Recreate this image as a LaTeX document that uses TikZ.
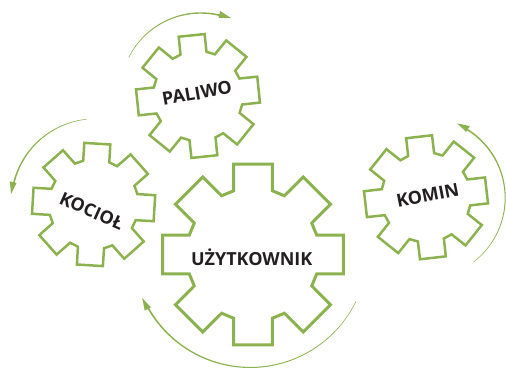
\documentclass[tikz,border=0pt]{standalone}
\usepackage{fontspec}
\setmainfont{Open Sans}
\definecolor{gearcolor}{HTML}{8CB24F}
\definecolor{labelcolor}{HTML}{231F20}
\tikzset{
  gearwheel/.pic={
    \draw[gearcolor,line join=miter] (-16.9:66.6)
      \foreach \a in {0,45,...,315} {
        -- ({\a-16.9}:66.6) -- ({\a-12.06}:92.3) -- ({\a+12.06}:92.3) -- ({\a+16.9}:66.6)
      } -- cycle;
  },
  smallgear/.style={scale=0.675,line width=2.5pt},
  biggear/.style={line width=3pt},
  gearlabel/.style={text=labelcolor,font=\bfseries\fontsize{18}{20}\selectfont,inner sep=0pt},
}
\begin{document}
\begin{tikzpicture}[x=1pt,y=1pt]
        \useasboundingbox (0,0) rectangle (506,369);
        % Gears
        \pic[biggear] at (253,114.5) {gearwheel};
        \pic[smallgear,rotate=6] at (198,273) {gearwheel};
        \pic[smallgear,rotate=-3.5] at (93.6,164.5) {gearwheel};
        \pic[smallgear,rotate=6.5] at (426,171.7) {gearwheel};
        % Labels
        \node[gearlabel] (uzytkownik) at (251.7,111.3) {UŻYTKOWNIK};
        \node[gearlabel,rotate=10] (paliwo) at (197,275.7) {PALIWO};
        \node[gearlabel,rotate=-24] (kociol) at (91.7,158) {KOCIOŁ};
        \node[gearlabel,rotate=11] (komin) at (427.7,174) {KOMIN};
        % Rotation arrows
        \foreach \cx/\cy/\r/\s/\t/\e in {
            201.1/275.7/81/153.7/68.3/77,
            95/166/84.4/95.7/173.9/165.7,
            424.6/171.4/81.1/-52.5/66.2/57.7,
            250/119/118/334/204/210}
          \fill[gearcolor,shift={(\cx,\cy)}]
            plot[domain=\s:\e,samples=50] (\x:\r)
            -- (\e:\r+3.5) -- (\t:\r) -- (\e:\r-3.5)
            -- plot[domain=\e:\s,samples=50] (\x:{\r-0.5-1.1*(\x-\s)/(\e-\s)}) -- cycle;
\end{tikzpicture}
\end{document}
